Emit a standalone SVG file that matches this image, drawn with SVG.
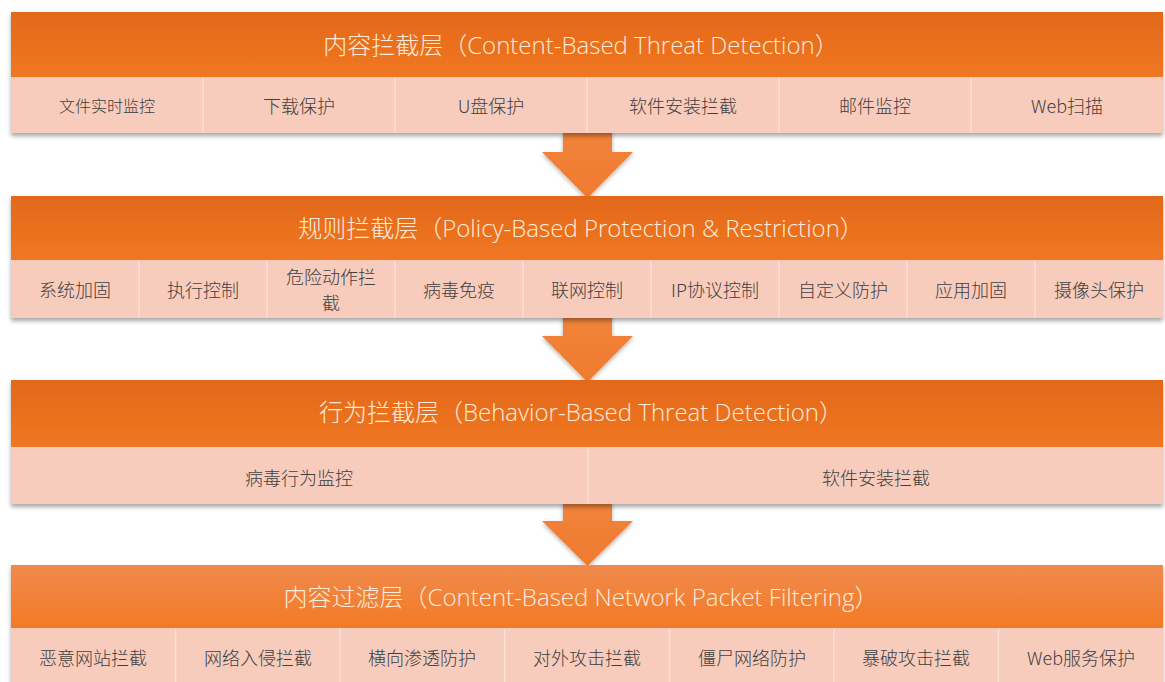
<svg xmlns="http://www.w3.org/2000/svg" width="1165" height="682" viewBox="0 0 1165 682">
<defs>
<linearGradient id="hdr" x1="0" y1="0" x2="0" y2="1">
<stop offset="0" stop-color="#E3681A"/>
<stop offset="1" stop-color="#F07722"/>
</linearGradient>
<linearGradient id="hdr4" x1="0" y1="0" x2="0" y2="1">
<stop offset="0" stop-color="#F08A4D"/>
<stop offset="1" stop-color="#F27A25"/>
</linearGradient>
<linearGradient id="arr" x1="0" y1="0" x2="0" y2="1">
<stop offset="0" stop-color="#F1843B"/>
<stop offset="1" stop-color="#EF7A2E"/>
</linearGradient>
<filter id="sh" x="-5%" y="-20%" width="110%" height="150%">
<feDropShadow dx="0" dy="3" stdDeviation="2" flood-color="#000" flood-opacity="0.35"/>
</filter>
<filter id="ash" x="-30%" y="-30%" width="160%" height="170%">
<feDropShadow dx="0" dy="2" stdDeviation="2" flood-color="#000" flood-opacity="0.3"/>
</filter>
</defs>
<style>
.band{fill:#F8CCBC}
.div{stroke:#FBE0D5;stroke-width:1.5}
.title{font-family:"Open Sans","Noto Sans CJK SC",sans-serif;font-weight:300;font-size:24px;fill:#FFEBDC;text-anchor:middle;dominant-baseline:central}
.item{font-family:"Noto Sans CJK SC",sans-serif;font-weight:300;font-size:18px;fill:#404040;text-anchor:middle;dominant-baseline:central}
.arrow{fill:url(#arr);filter:url(#ash)}
</style>
<rect width="1165" height="682" fill="#FFFFFF"/>
<g id="connectors">
<polygon class="arrow" points="563,130 612,130 612,152 633,152 587.5,198 542,152 563,152"/>
<polygon class="arrow" points="563,315 612,315 612,336 633,336 587.5,382 542,336 563,336"/>
<polygon class="arrow" points="563,500 612,500 612,521 633,521 587.5,566 542,521 563,521"/>
</g>
<g id="layer1">
<g filter="url(#sh)">
<rect x="11" y="12" width="1152" height="65" fill="url(#hdr)"/>
<rect class="band" x="11" y="77" width="1152" height="56"/>
</g>
<g class="div">
<line x1="203" y1="78" x2="203" y2="133"/><line x1="395" y1="78" x2="395" y2="133"/><line x1="587" y1="78" x2="587" y2="133"/><line x1="779" y1="78" x2="779" y2="133"/><line x1="971" y1="78" x2="971" y2="133"/>
</g>
<text class="title" x="581" y="44">内容拦截层（Content-Based Threat Detection）</text>
<text class="item" x="107" y="105" style="font-size:16px">文件实时监控</text>
<text class="item" x="299" y="105">下载保护</text>
<text class="item" x="491" y="105">U盘保护</text>
<text class="item" x="683" y="105">软件安装拦截</text>
<text class="item" x="875" y="105">邮件监控</text>
<text class="item" x="1067" y="105">Web扫描</text>
</g>
<g id="layer2">
<g filter="url(#sh)">
<rect x="11" y="196" width="1152" height="64" fill="url(#hdr)"/>
<rect class="band" x="11" y="260" width="1152" height="58"/>
</g>
<g class="div">
<line x1="139" y1="261" x2="139" y2="318"/><line x1="267" y1="261" x2="267" y2="318"/><line x1="395" y1="261" x2="395" y2="318"/><line x1="523" y1="261" x2="523" y2="318"/><line x1="651" y1="261" x2="651" y2="318"/><line x1="779" y1="261" x2="779" y2="318"/><line x1="907" y1="261" x2="907" y2="318"/><line x1="1035" y1="261" x2="1035" y2="318"/>
</g>
<text class="title" x="581" y="227">规则拦截层（Policy-Based Protection &amp; Restriction）</text>
<text class="item" x="75" y="289">系统加固</text>
<text class="item" x="203" y="289">执行控制</text>
<text class="item"><tspan x="331" y="276">危险动作拦</tspan><tspan x="331" y="302">截</tspan></text>
<text class="item" x="459" y="289">病毒免疫</text>
<text class="item" x="587" y="289">联网控制</text>
<text class="item" x="715" y="289">IP协议控制</text>
<text class="item" x="843" y="289">自定义防护</text>
<text class="item" x="971" y="289">应用加固</text>
<text class="item" x="1099" y="289">摄像头保护</text>
</g>
<g id="layer3">
<g filter="url(#sh)">
<rect x="11" y="380" width="1152" height="67" fill="url(#hdr)"/>
<rect class="band" x="11" y="447" width="1152" height="57"/>
</g>
<line class="div" x1="588" y1="448" x2="588" y2="504"/>
<text class="title" x="581" y="411">行为拦截层（Behavior-Based Threat Detection）</text>
<text class="item" x="299" y="477">病毒行为监控</text>
<text class="item" x="876" y="477">软件安装拦截</text>
</g>
<g id="layer4">
<g filter="url(#sh)">
<rect x="11" y="565" width="1152" height="63" fill="url(#hdr4)"/>
<rect class="band" x="11" y="628" width="1152" height="60"/>
</g>
<g class="div">
<line x1="175.6" y1="629" x2="175.6" y2="682"/><line x1="340.1" y1="629" x2="340.1" y2="682"/><line x1="504.7" y1="629" x2="504.7" y2="682"/><line x1="669.3" y1="629" x2="669.3" y2="682"/><line x1="833.9" y1="629" x2="833.9" y2="682"/><line x1="998.4" y1="629" x2="998.4" y2="682"/>
</g>
<text class="title" x="581" y="596">内容过滤层（Content-Based Network Packet Filtering）</text>
<text class="item" x="93" y="657">恶意网站拦截</text>
<text class="item" x="258" y="657">网络入侵拦截</text>
<text class="item" x="422" y="657">横向渗透防护</text>
<text class="item" x="587" y="657">对外攻击拦截</text>
<text class="item" x="752" y="657">僵尸网络防护</text>
<text class="item" x="916" y="657">暴破攻击拦截</text>
<text class="item" x="1081" y="657">Web服务保护</text>
</g>
</svg>
